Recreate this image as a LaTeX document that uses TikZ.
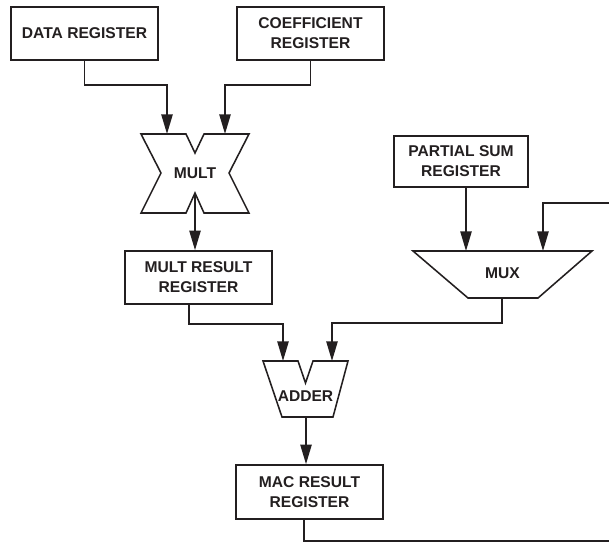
\documentclass[tikz,border=0pt]{standalone}
\usepackage{fontspec}
\setmainfont{Liberation Sans}
\usepackage{xcolor}
\usetikzlibrary{arrows.meta}
\definecolor{ink}{HTML}{231F20}

\begin{document}
\begin{tikzpicture}[x=0.025cm, y=-0.025cm,
  reg/.style={draw=ink, line width=1.1pt, minimum width=3.675cm, minimum height=1.325cm,
    inner sep=0pt, align=center, text=ink, font=\fontsize{11.1}{14.2}\selectfont\bfseries},
  unit/.style={draw=ink, line width=1.1pt, fill=white},
  lbl/.style={text=ink, inner sep=0pt, font=\fontsize{11.1}{14.2}\selectfont\bfseries},
  wire/.style={draw=ink, line width=1.3pt, -{Triangle[length=14pt,width=8pt]}}]
\useasboundingbox (0,0) rectangle (609,542);
% registers
\node[reg] (data) at (84.5,33.5) {DATA REGISTER};
\node[reg] (coef) at (310.5,33.5) {COEFFICIENT\\REGISTER};
\node[reg] (mres) at (198.5,277.5) {MULT RESULT\\REGISTER};
\node[reg, minimum width=3.35cm, minimum height=1.275cm] (psum) at (461,161.5) {PARTIAL SUM\\REGISTER};
\node[reg, minimum height=1.35cm] (mac) at (309.5,492) {MAC RESULT\\REGISTER};
% multiplier
\draw[unit] (141,134) -- (186,134) -- (195,153) -- (204,134) -- (249,134) -- (229,173)
  -- (249,213) -- (204,213) -- (195,193) -- (186,213) -- (141,213) -- (161,173) -- cycle;
\node[lbl] (mult) at (195,173) {MULT};
\coordinate (multL) at (167,134);
\coordinate (multR) at (225,134);
\coordinate (multO) at (195,193);
% mux
\draw[unit] (413,251) -- (592,251) -- (538,298) -- (468,298) -- cycle;
\node[lbl] (mux) at (502.5,273) {MUX};
\coordinate (muxL) at (466,251);
\coordinate (muxR) at (543,251);
\coordinate (muxO) at (502,298);
% adder
\draw[unit] (263,361) -- (298,361) -- (305.5,383) -- (313,361) -- (348,361) -- (333,417)
  -- (282,417) -- cycle;
\node[lbl] (adder) at (305.5,396) {ADDER};
\coordinate (addL) at (283,361);
\coordinate (addR) at (332,361);
\coordinate (addO) at (306,417);
\coordinate (fbk) at (612,203);
% connections
\draw[wire] (data.south) -- ++(0,24) -| (multL);
\draw[wire] (coef.south) -- ++(0,24) -| (multR);
\draw[wire] (multO) -- (multO |- mres.north);
\draw[wire] ([xshift=-0.24cm]mres.south) -- ++(0,19) -| (addL);
\draw[wire] ([xshift=0.125cm]psum.south) -- (muxL);
\draw[wire] (muxO) -- ++(0,25) -| (addR);
\draw[wire] (addO) -- (addO |- mac.north);
\draw[wire] ([xshift=-0.14cm]mac.south) -- ++(0,21) -| (fbk) -| (muxR);
\end{tikzpicture}
\end{document}
